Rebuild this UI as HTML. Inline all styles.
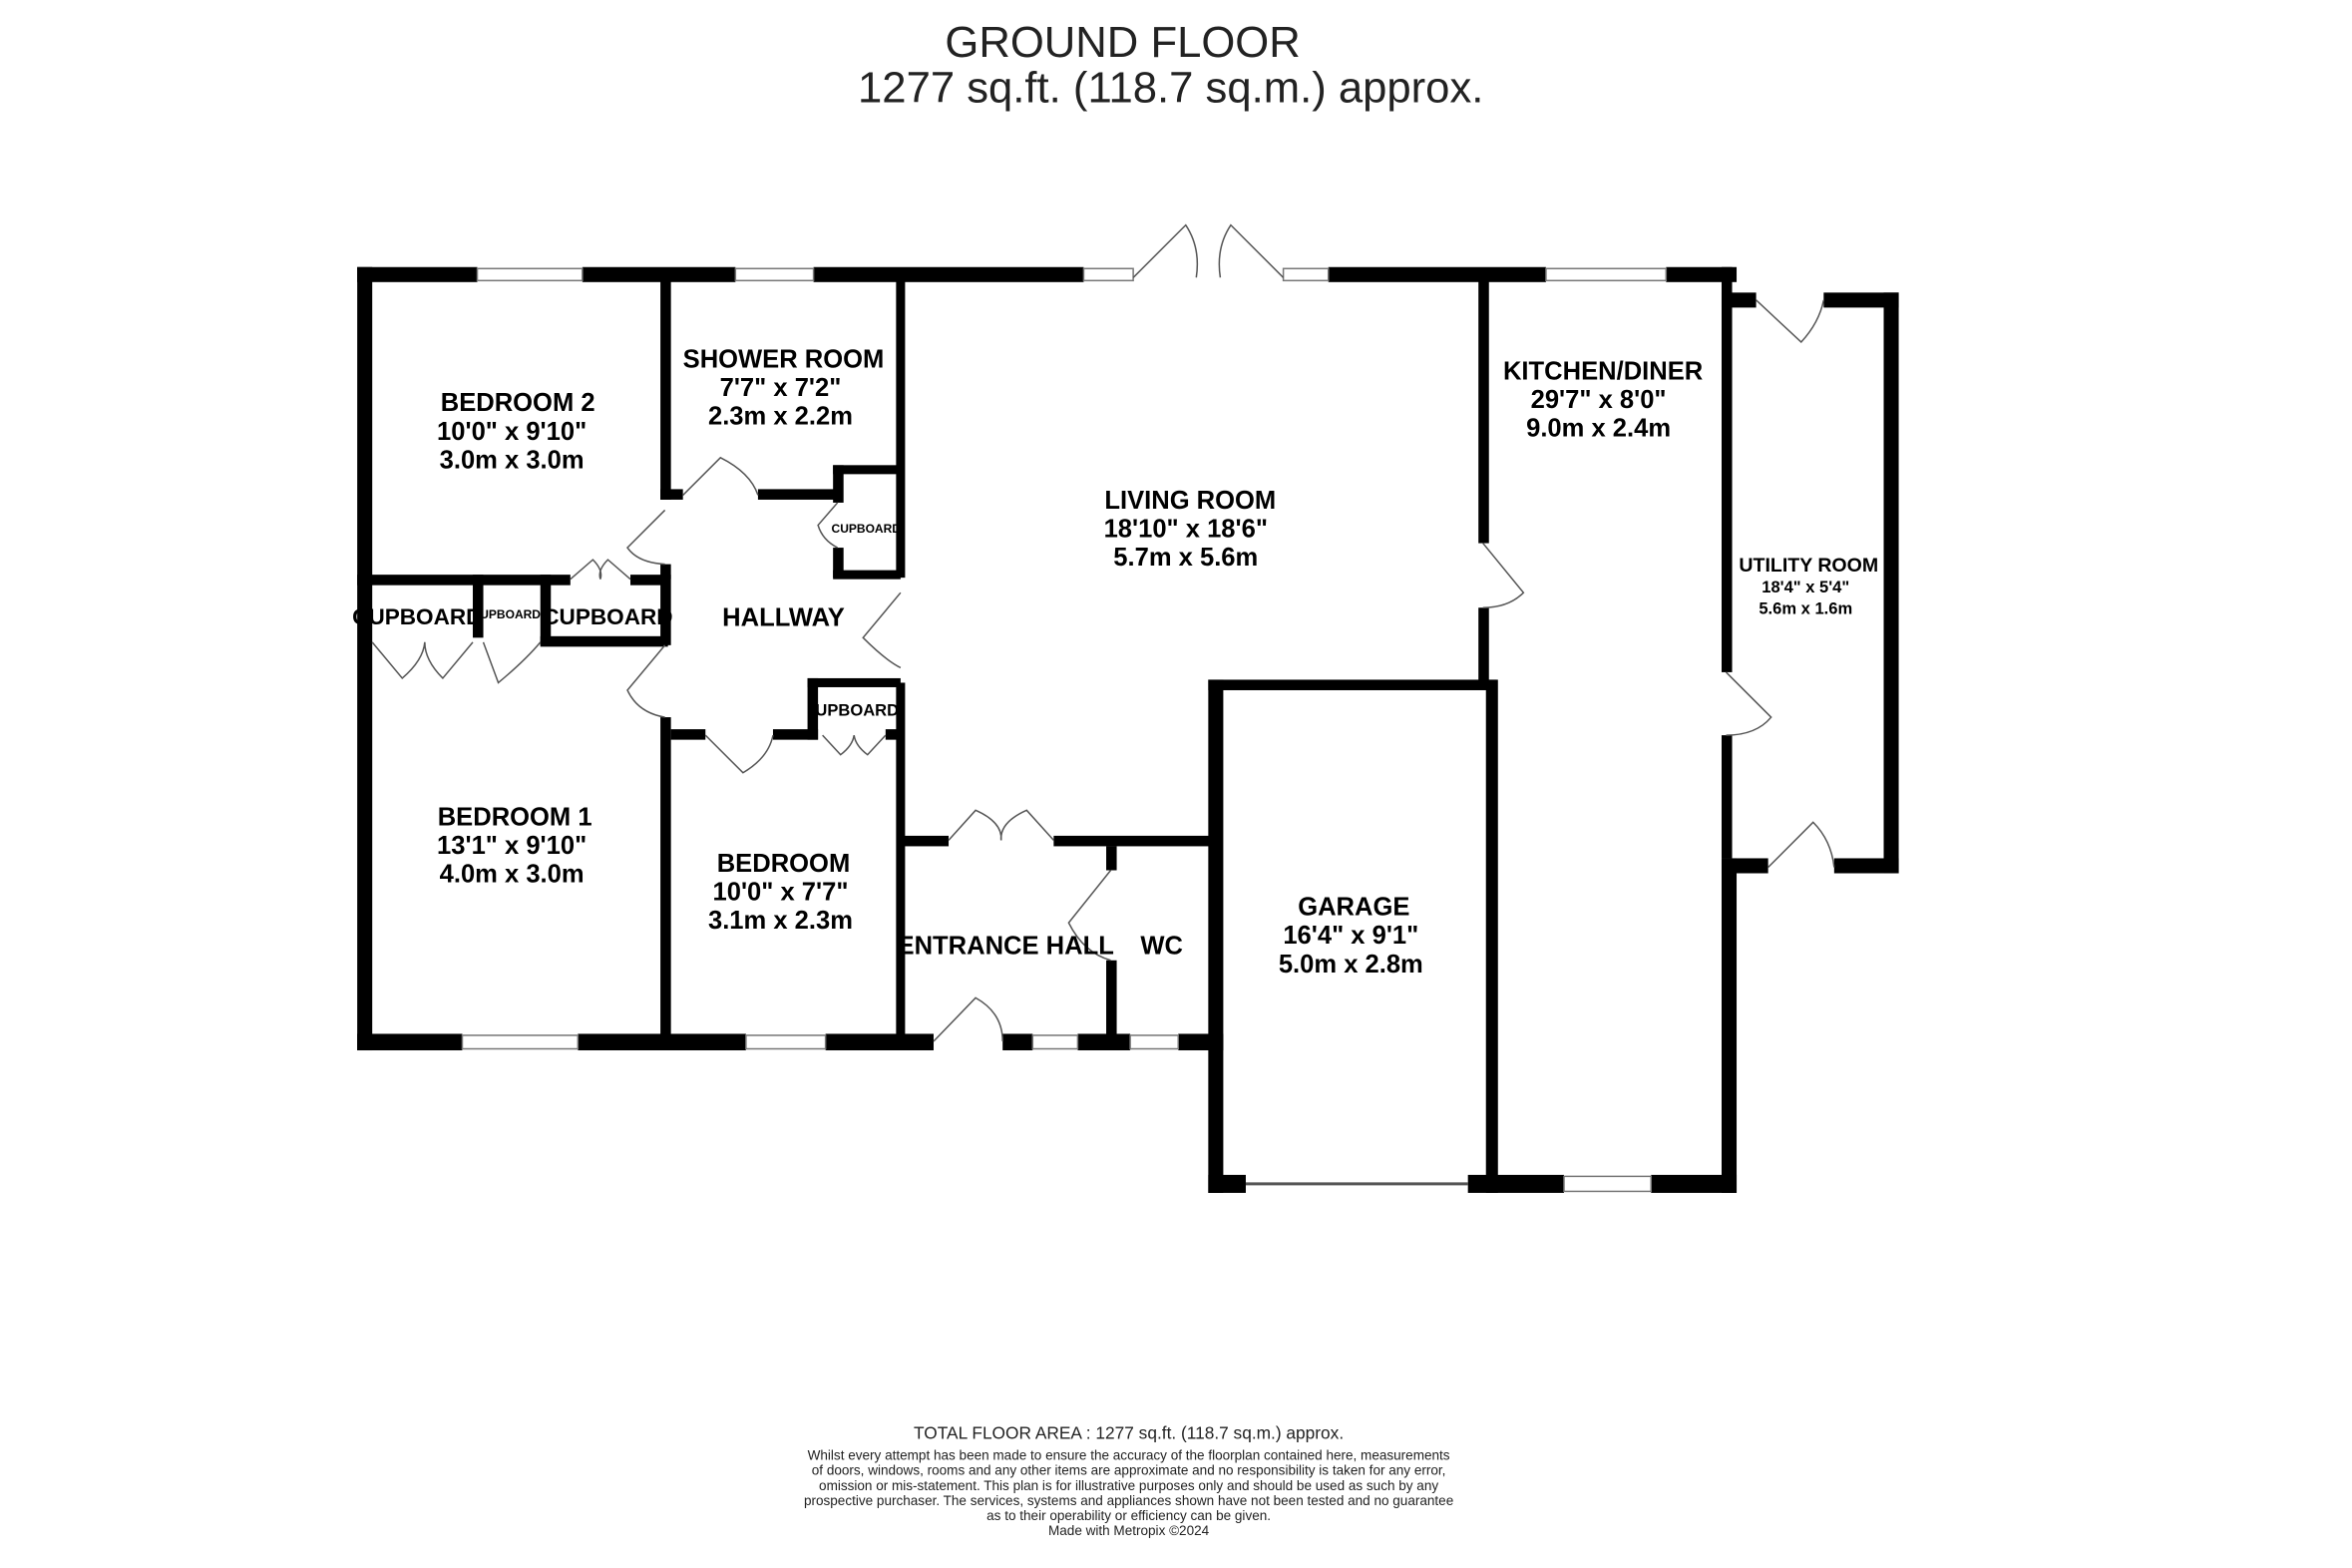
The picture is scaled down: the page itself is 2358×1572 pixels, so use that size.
<!DOCTYPE html>
<html><head><meta charset="utf-8"><style>
html,body{margin:0;padding:0;background:#fff}
svg{display:block}
.t{font-family:"Liberation Sans",sans-serif;font-weight:bold;fill:#000;text-anchor:middle}
.f{font-family:"Liberation Sans",sans-serif;fill:#222;text-anchor:middle}
.d{stroke:#555;stroke-width:1;fill:none}
</style></head><body>
<svg width="2358" height="1572" viewBox="0 0 1567 1045" preserveAspectRatio="none">
<rect width="1567" height="1045" fill="#fff"/>
<text class="f" x="748" y="38" font-size="29" fill="#000">GROUND FLOOR</text>
<text class="f" x="780" y="68" font-size="29" fill="#000">1277 sq.ft. (118.7 sq.m.) approx.</text>
<g fill="#000">
<rect x="238" y="178" width="80" height="10"/><rect x="388" y="178" width="102" height="10"/>
<rect x="542" y="178" width="180" height="10"/><rect x="885" y="178" width="145" height="10"/>
<rect x="1110" y="178" width="47" height="10"/>
<rect x="238" y="178" width="10" height="522"/>
<rect x="238" y="689" width="70" height="11"/><rect x="385" y="689" width="112" height="11"/>
<rect x="550" y="689" width="72" height="11"/><rect x="668" y="689" width="20" height="11"/>
<rect x="718" y="689" width="35" height="11"/><rect x="785" y="689" width="30" height="11"/>
<rect x="1147" y="178" width="7" height="270"/><rect x="1147" y="490" width="7" height="82"/>
<rect x="1147" y="572" width="10" height="223"/>
<rect x="1147" y="195" width="23" height="10"/><rect x="1147" y="572" width="31" height="10"/>
<rect x="1215" y="195" width="50" height="10"/><rect x="1255" y="195" width="10" height="387"/>
<rect x="1222" y="572" width="43" height="10"/>
<rect x="440" y="183" width="7" height="150"/><rect x="440" y="376" width="7" height="10"/>
<rect x="440" y="383" width="7" height="47"/><rect x="440" y="478" width="7" height="212"/>
<rect x="440" y="326" width="15" height="7"/><rect x="505" y="326" width="55" height="7"/>
<rect x="555" y="310" width="45" height="6"/><rect x="555" y="310" width="7" height="25"/>
<rect x="555" y="365" width="7" height="20"/><rect x="555" y="380" width="45" height="6"/>
<rect x="597" y="183" width="6" height="202"/><rect x="597" y="455" width="6" height="235"/>
<rect x="238" y="383" width="142" height="7"/><rect x="420" y="383" width="25" height="7"/>
<rect x="360" y="383" width="7" height="47"/><rect x="360" y="424" width="85" height="7"/>
<rect x="315" y="383" width="7" height="42"/>
<rect x="447" y="486" width="23" height="7"/><rect x="515" y="486" width="30" height="7"/>
<rect x="538" y="452" width="7" height="41"/><rect x="538" y="452" width="62" height="6"/>
<rect x="590" y="486" width="10" height="7"/>
<rect x="600" y="557" width="32" height="7"/><rect x="702" y="557" width="108" height="7"/>
<rect x="737" y="564" width="7" height="16"/><rect x="737" y="640" width="7" height="50"/>
<rect x="805" y="453" width="10" height="342"/><rect x="805" y="453" width="192" height="7"/>
<rect x="990" y="453" width="8" height="342"/>
<rect x="805" y="783" width="25" height="12"/><rect x="978" y="783" width="64" height="12"/>
<rect x="1100" y="783" width="57" height="12"/>
<rect x="985" y="183" width="7" height="179"/><rect x="985" y="405" width="7" height="50"/>
</g>
<g fill="#fff" stroke="#777" stroke-width="1">
<rect x="318" y="179" width="70" height="8"/><rect x="490" y="179" width="52" height="8"/>
<rect x="722" y="179" width="33" height="8"/><rect x="855" y="179" width="30" height="8"/>
<rect x="1030" y="179" width="80" height="8"/>
<rect x="308" y="690" width="77" height="9"/><rect x="497" y="690" width="53" height="9"/>
<rect x="688" y="690" width="30" height="9"/><rect x="753" y="690" width="32" height="9"/>
<rect x="1042" y="784" width="58" height="10"/>
</g>
<line x1="830" y1="789" x2="978" y2="789" stroke="#555" stroke-width="2"/>
<g class="d">
<path d="M755 185 L790 150 Q800 165 797 185"/><path d="M855 185 L820 150 Q810 165 813 185"/>
<path d="M1170 200 L1200 228 Q1212 215 1215 200"/>
<path d="M1178 578 L1208 548 Q1220 560 1222 578"/>
<path d="M1150 448 L1180 478 Q1170 490 1150 490"/>
<path d="M988 362 L1015 395 Q1005 405 988 405"/>
<path d="M455 330 L480 305 Q500 315 505 330"/>
<path d="M443 340 L418 365 Q425 375 443 376"/>
<path d="M443 430 L418 460 Q425 475 443 478"/>
<path d="M470 490 L495 515 Q512 505 515 490"/>
<path d="M558 335 L545 350 Q548 360 558 365"/>
<path d="M600 395 L575 425 Q590 440 600 445"/>
<path d="M380 386 L395 373 Q402 380 400 386"/><path d="M420 386 L405 373 Q398 380 400 386"/>
<path d="M248 428 L268 452 Q282 440 283 428"/><path d="M315 428 L295 452 Q283 440 283 428"/>
<path d="M322 428 L332 455 Q350 440 360 428"/>
<path d="M548 490 L560 503 Q568 497 569 490"/><path d="M590 490 L578 503 Q570 497 569 490"/>
<path d="M632 560 L650 540 Q668 548 667 560"/><path d="M702 560 L684 540 Q666 548 667 560"/>
<path d="M740 580 L712 615 Q722 635 740 640"/>
<path d="M622 694 L650 665 Q668 675 668 694"/>
</g>
<g class="t" font-size="17" xml:space="preserve">
<text x="345" y="274">BEDROOM 2</text><text x="341" y="293">10'0"  x 9'10"</text><text x="341" y="312">3.0m  x 3.0m</text>
<text x="522" y="245">SHOWER ROOM</text><text x="520" y="264">7'7"  x 7'2"</text><text x="520" y="283">2.3m  x 2.2m</text>
<text x="793" y="339">LIVING ROOM</text><text x="790" y="358">18'10"  x 18'6"</text><text x="790" y="377">5.7m  x 5.6m</text>
<text x="1068" y="253">KITCHEN/DINER</text><text x="1065" y="272">29'7"  x 8'0"</text><text x="1065" y="291">9.0m  x 2.4m</text>
<text x="522" y="417">HALLWAY</text>
<text x="343" y="550">BEDROOM 1</text><text x="341" y="569">13'1"  x 9'10"</text><text x="341" y="588">4.0m  x 3.0m</text>
<text x="522" y="581">BEDROOM</text><text x="520" y="600">10'0"  x 7'7"</text><text x="520" y="619">3.1m  x 2.3m</text>
<text x="670" y="636">ENTRANCE HALL</text><text x="774" y="636">WC</text>
<text x="902" y="610">GARAGE</text><text x="900" y="629">16'4"  x 9'1"</text><text x="900" y="648">5.0m  x 2.8m</text>
<text x="278" y="416" font-size="15">CUPBOARD</text><text x="405" y="416" font-size="15">CUPBOARD</text>
<text x="340" y="412" font-size="8">UPBOARD</text>
<text x="577" y="355" font-size="8">CUPBOARD</text><text x="571" y="477" font-size="11">UPBOARD</text>
<text x="1205" y="381" font-size="13">UTILITY ROOM</text><text x="1203" y="395" font-size="11">18'4"  x 5'4"</text><text x="1203" y="409" font-size="11">5.6m  x 1.6m</text>
</g>
<text class="f" x="752" y="959" font-size="11.5">TOTAL FLOOR AREA : 1277 sq.ft. (118.7 sq.m.) approx.</text>
<g class="f" font-size="9">
<text x="752" y="973">Whilst every attempt has been made to ensure the accuracy of the floorplan contained here, measurements</text>
<text x="752" y="983">of doors, windows, rooms and any other items are approximate and no responsibility is taken for any error,</text>
<text x="752" y="993">omission or mis-statement. This plan is for illustrative purposes only and should be used as such by any</text>
<text x="752" y="1003">prospective purchaser. The services, systems and appliances shown have not been tested and no guarantee</text>
<text x="752" y="1013">as to their operability or efficiency can be given.</text>
<text x="752" y="1023">Made with Metropix ©2024</text>
</g>
</svg>
</body></html>
